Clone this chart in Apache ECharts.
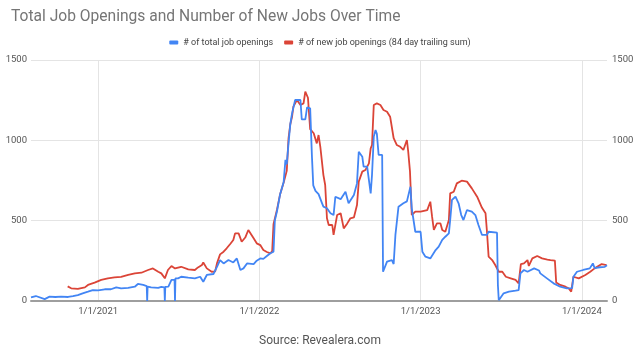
<!DOCTYPE html>
<html>
<head>
<meta charset="utf-8">
<script src="https://cdn.jsdelivr.net/npm/echarts@6/dist/echarts.min.js"></script>
<style>html,body{margin:0;padding:0;background:#fff}#c{width:640px;height:351px}</style>
</head>
<body>
<div id="c"></div>
<script>
var titleText = 'Total Job Openings and Number of New Jobs Over Time';
var sourceText = 'Source: Revealera.com';
var seriesNames = ['# of total job openings', '# of new job openings (84 day trailing sum)'];
var yTicks = [0, 500, 1000, 1500];
var xTickDates = ['2021-01-01', '2022-01-01', '2023-01-01', '2024-01-01'];
var xRange = ['2020-08-02', '2024-02-27'];

var totalDates = ['2020-08-02','2020-08-13','2020-09-02','2020-09-13','2020-09-26','2020-10-09','2020-10-25','2020-11-05','2020-11-16','2020-11-27','2020-12-09','2020-12-20',
'2021-01-01','2021-01-16','2021-01-30','2021-02-11','2021-02-22','2021-03-10','2021-03-25','2021-04-01','2021-04-13','2021-04-21','2021-04-22','2021-04-23','2021-05-01','2021-05-17','2021-05-24','2021-05-31','2021-06-01','2021-06-02','2021-06-09','2021-06-16','2021-06-23','2021-06-24','2021-06-25','2021-07-01','2021-07-08','2021-07-24','2021-08-08','2021-08-20','2021-08-27','2021-09-04','2021-09-19','2021-09-27','2021-10-04','2021-10-12','2021-10-23','2021-11-03','2021-11-11','2021-11-19','2021-11-26','2021-12-04','2021-12-19','2021-12-26',
'2022-01-03','2022-01-10','2022-01-18','2022-01-26','2022-02-02','2022-02-05','2022-02-10','2022-02-17','2022-02-25','2022-03-01','2022-03-04','2022-03-08','2022-03-12','2022-03-16','2022-03-19','2022-03-23','2022-04-04','2022-04-07','2022-04-15','2022-04-19','2022-04-26','2022-04-30','2022-05-03','2022-05-08','2022-05-15','2022-05-23','2022-05-26','2022-06-03','2022-06-11','2022-06-18','2022-06-22','2022-07-04','2022-07-15','2022-07-22','2022-08-03','2022-08-10','2022-08-14','2022-08-22','2022-08-25','2022-09-02','2022-09-10','2022-09-13','2022-09-17','2022-09-21','2022-09-24','2022-09-28','2022-10-06','2022-10-08','2022-10-17','2022-10-28','2022-11-01','2022-11-05','2022-11-12','2022-11-23','2022-12-01','2022-12-09','2022-12-12','2022-12-20',
'2023-01-01','2023-01-05','2023-01-12','2023-01-23','2023-02-04','2023-02-11','2023-02-19','2023-02-26','2023-03-06','2023-03-09','2023-03-13','2023-03-21','2023-03-28','2023-04-03','2023-04-08','2023-04-16','2023-04-27','2023-05-05','2023-05-12','2023-05-20','2023-05-31','2023-06-04','2023-06-23','2023-06-25','2023-06-27','2023-07-01','2023-07-08','2023-07-20','2023-08-04','2023-08-11','2023-08-15','2023-08-23','2023-08-31','2023-09-15','2023-09-26','2023-09-29','2023-10-14','2023-10-29','2023-11-13','2023-11-28','2023-12-10','2023-12-13','2023-12-21',
'2024-01-04','2024-01-19','2024-01-26','2024-01-30','2024-02-11','2024-02-22','2024-02-27'];
var totalValues = [23,31,12,27,25,27,25,30,37,48,58,68,
66,73,73,85,79,82,89,106,100,93,0,90,85,82,88,85,0,88,90,131,131,0,141,141,151,145,141,151,120,162,168,213,255,234,255,240,265,193,203,234,230,251,
265,262,280,297,307,500,560,665,740,878,850,981,1100,1168,1178,1251,1251,1130,1130,1205,1199,900,720,685,665,608,587,577,546,535,649,634,680,608,660,732,929,898,836,836,670,784,1023,1064,1040,909,909,182,245,255,230,411,587,608,620,711,577,431,
431,307,276,265,317,338,380,400,421,504,629,649,608,535,504,566,556,535,473,411,411,431,425,100,5,10,48,58,64,68,172,193,182,203,190,172,141,110,89,79,80,151,182,
193,203,234,205,210,213,222];

var newDates = ['2020-10-24','2020-11-01','2020-11-16','2020-12-02','2020-12-09','2020-12-24',
'2021-01-08','2021-01-23','2021-02-07','2021-02-22','2021-03-10','2021-03-25','2021-04-09','2021-04-24','2021-05-05','2021-05-17','2021-05-24','2021-06-01','2021-06-08','2021-06-16','2021-06-24','2021-07-08','2021-07-24','2021-08-08','2021-08-15','2021-08-24','2021-08-27','2021-09-04','2021-09-15','2021-09-23','2021-09-27','2021-10-04','2021-10-12','2021-10-19','2021-10-27','2021-11-03','2021-11-07','2021-11-15','2021-11-22','2021-11-30','2021-12-07','2021-12-11','2021-12-19','2021-12-26',
'2022-01-03','2022-01-10','2022-01-18','2022-01-26','2022-01-30','2022-02-02','2022-02-10','2022-02-17','2022-02-25','2022-03-04','2022-03-08','2022-03-12','2022-03-16','2022-03-19','2022-03-27','2022-04-04','2022-04-11','2022-04-15','2022-04-21','2022-04-26','2022-05-04','2022-05-11','2022-05-15','2022-05-19','2022-05-26','2022-05-30','2022-06-03','2022-06-07','2022-06-15','2022-06-18','2022-06-22','2022-06-26','2022-07-04','2022-07-11','2022-07-19','2022-07-26','2022-08-03','2022-08-10','2022-08-14','2022-08-22','2022-08-29','2022-09-06','2022-09-10','2022-09-13','2022-09-17','2022-09-24','2022-10-02','2022-10-09','2022-10-17','2022-10-24','2022-11-01','2022-11-08','2022-11-16','2022-11-23','2022-12-01','2022-12-04','2022-12-08','2022-12-12','2022-12-20',
'2023-01-01','2023-01-16','2023-01-23','2023-01-27','2023-01-31','2023-02-07','2023-02-15','2023-02-19','2023-02-26','2023-03-06','2023-03-09','2023-03-17','2023-03-24','2023-04-04','2023-04-16','2023-04-27','2023-05-09','2023-05-20','2023-05-28','2023-05-31','2023-06-04','2023-06-12','2023-06-19','2023-06-27','2023-07-05','2023-07-13','2023-07-24','2023-08-04','2023-08-11','2023-08-16','2023-08-23','2023-08-31','2023-09-03','2023-09-11','2023-09-22','2023-10-03','2023-10-15','2023-10-22','2023-11-01','2023-11-04','2023-11-13','2023-11-25','2023-12-02','2023-12-08','2023-12-13','2023-12-25',
'2024-01-09','2024-01-20','2024-01-30','2024-02-15','2024-02-26'];
var newValues = [91,79,75,85,100,114,
131,141,147,150,162,172,176,193,203,182,172,141,193,218,203,213,197,193,209,224,240,203,182,185,234,290,307,328,355,380,421,421,369,395,442,452,390,359,
348,317,305,297,310,478,570,665,738,810,1013,1100,1147,1210,1251,1220,1230,1303,1265,1070,1044,981,1033,960,784,722,515,473,473,411,411,535,546,452,483,515,520,597,743,805,815,857,950,971,1220,1230,1220,1189,1178,1147,1013,971,960,940,1002,929,805,535,556,
556,566,618,525,442,483,483,442,431,504,670,680,732,749,743,701,649,580,546,442,276,255,224,182,182,151,141,131,110,230,234,255,218,265,280,265,258,255,251,115,100,89,79,58,151,141,
162,182,203,230,224];

function ts(s) { var p = s.split('-'); return Date.UTC(+p[0], +p[1] - 1, +p[2]); }
function zip(d, v) { return d.map(function (x, i) { return [ts(x), v[i]]; }); }
function fmt(v) { var d = new Date(v); return (d.getUTCMonth() + 1) + '/' + d.getUTCDate() + '/' + d.getUTCFullYear(); }

var FONT = 'Roboto, Arial, sans-serif';
var xTicks = xTickDates.map(ts);
var yAxisBase = {
  type: 'value', min: yTicks[0], max: yTicks[yTicks.length - 1], interval: 500,
  axisLine: { show: false }, axisTick: { show: false },
  splitLine: { show: true, lineStyle: { color: '#e4e4e4', width: 1 } },
  axisLabel: { color: '#555', fontSize: 9.5, fontFamily: FONT, formatter: function (v) { return String(v); } }
};

var chart = echarts.init(document.getElementById('c'), null, { renderer: 'canvas' });
chart.setOption({
  animation: false,
  backgroundColor: '#fff',
  title: [
    { text: titleText, left: 6, top: 4, textStyle: { color: '#757575', fontSize: 15.6, fontWeight: 'normal', fontFamily: FONT } },
    { text: sourceText, left: 'center', top: 330, textStyle: { color: '#555', fontSize: 12, fontWeight: 'normal', fontFamily: FONT } }
  ],
  legend: {
    top: 33, left: 'center', itemWidth: 9, itemHeight: 4, itemGap: 11, icon: 'roundRect',
    textStyle: { color: '#444', fontSize: 9, fontFamily: FONT },
    data: seriesNames
  },
  grid: { left: 31, right: 33, top: 60, bottom: 50, containLabel: false },
  xAxis: {
    type: 'value', min: ts(xRange[0]), max: ts(xRange[1]),
    axisLine: { show: true, lineStyle: { color: '#9e9e9e', width: 2 } },
    axisTick: { show: false, customValues: xTicks },
    splitLine: { show: true, lineStyle: { color: '#e4e4e4', width: 1 } },
    axisLabel: { customValues: xTicks, formatter: fmt, color: '#555', fontSize: 9.5, fontFamily: FONT, margin: 6, showMinLabel: true, showMaxLabel: true }
  },
  yAxis: [
    Object.assign({}, yAxisBase, { position: 'left', axisLabel: Object.assign({}, yAxisBase.axisLabel, { margin: 4 }) }),
    Object.assign({}, yAxisBase, { position: 'right', splitLine: { show: false }, axisLabel: Object.assign({}, yAxisBase.axisLabel, { margin: 5 }) })
  ],
  series: [
    { name: seriesNames[0], type: 'line', yAxisIndex: 0, data: zip(totalDates, totalValues), showSymbol: false, symbol: 'none',
      lineStyle: { color: '#4285f4', width: 1.8 }, itemStyle: { color: '#4285f4' }, z: 3 },
    { name: seriesNames[1], type: 'line', yAxisIndex: 1, data: zip(newDates, newValues), showSymbol: false, symbol: 'none',
      lineStyle: { color: '#db4437', width: 1.8 }, itemStyle: { color: '#db4437' }, z: 2 }
  ]
});
</script>
</body>
</html>
